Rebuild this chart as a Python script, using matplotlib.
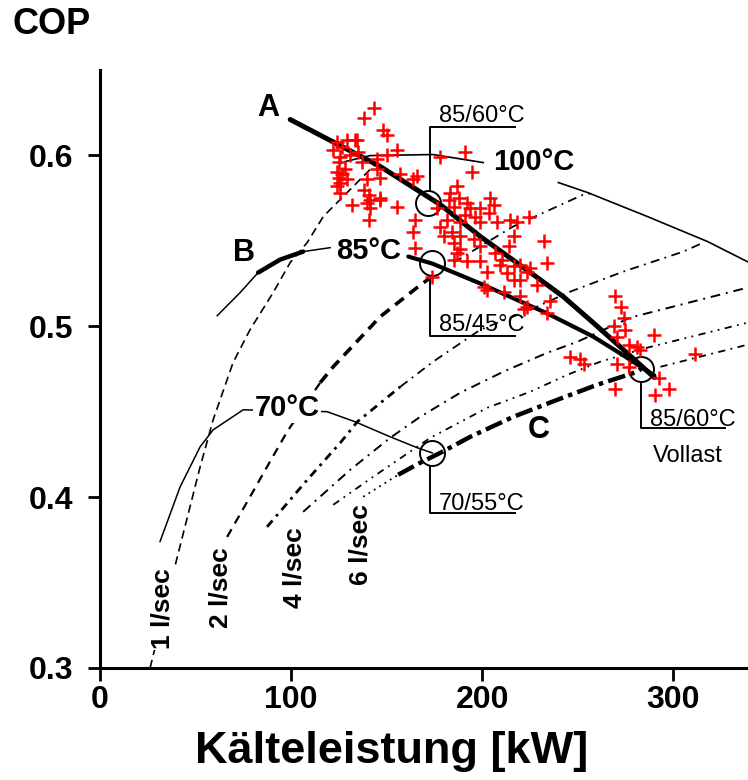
import numpy as np
import matplotlib
matplotlib.use("Agg")
import matplotlib.pyplot as plt

plt.rcParams['font.family'] = ['Liberation Sans', 'DejaVu Sans']

# Isothermen Heizwasser-Eintritt: Kaelteleistung [kW] / COP
t70_q = [31.4, 41.9, 52.4, 59.2, 74.9, 118.8, 133.5, 151.8, 166.0, 173.8]
t70_cop = [0.374, 0.406, 0.4295, 0.4394, 0.4511, 0.450, 0.4441, 0.4353, 0.4289, 0.4259]

t85_q = [61.3, 73.3, 82.7, 94.2, 106.3, 120.4, 161.3, 173.8, 199.0, 234.0, 258.1, 272.3, 290.0]
t85_cop = [0.5062, 0.5197, 0.5314, 0.539, 0.5437, 0.546, 0.5408, 0.5367, 0.525, 0.5075, 0.4939, 0.484, 0.4712]

t100_q = [128.3, 141.4, 174.3, 200.5, 239.8, 255.0, 286.4, 317.8, 338.7]
t100_cop = [0.5964, 0.5999, 0.6005, 0.5958, 0.5841, 0.5783, 0.5642, 0.5496, 0.5378]

# Linien konstanter Durchfluss
v1_q = [26.2, 40.3, 52.4, 59.2, 69.6, 78.5, 90.6, 99.5, 108.4, 116.8, 125.7, 136.1, 145.0]
v1_cop = [0.300, 0.3644, 0.4178, 0.4453, 0.4787, 0.498, 0.5197, 0.5373, 0.549, 0.5642, 0.5742, 0.5859, 0.5959]

v2_q = [66.5, 78.5, 87.4, 97.9, 115.2, 122.0, 146.6, 166.5, 175.0, 185.0, 216.0, 252.9, 256.5]
v2_cop = [0.3767, 0.4002, 0.4178, 0.4383, 0.467, 0.4763, 0.5056, 0.5232, 0.5302, 0.5373, 0.5583, 0.5771, 0.5777]

v3_q = [87.4, 108.4, 125.7, 134.6, 157.1, 174.3, 199.0, 225.1, 246.1, 273.8, 305.2, 315.7]
v3_cop = [0.3826, 0.4101, 0.4318, 0.4441, 0.4646, 0.4793, 0.498, 0.5097, 0.5203, 0.532, 0.5437, 0.549]

v4_q = [106.3, 130.9, 151.8, 167.5, 188.5, 211.0, 234.0, 249.7, 277.5, 338.7]
v4_cop = [0.3914, 0.416, 0.4347, 0.447, 0.4611, 0.4734, 0.4845, 0.4909, 0.5051, 0.5226]

v5_q = [122.0, 142.9, 166.0, 172.8, 202.6, 225.1, 244.5, 261.8, 286.4, 338.7]
v5_cop = [0.3955, 0.4119, 0.4295, 0.4347, 0.4523, 0.4617, 0.4716, 0.4793, 0.4875, 0.5021]

v6_q = [137.7, 156.0, 167.5, 178.0, 193.7, 216.2, 239.3, 260.2, 281.2, 283.2, 293.2, 338.7]
v6_cop = [0.4002, 0.4131, 0.4201, 0.4259, 0.4353, 0.447, 0.457, 0.4658, 0.4734, 0.4752, 0.4763, 0.4892]

# Regelkurve A
a_q = [99.5, 146.6, 178.0, 199.0, 225.1, 242.4, 258.1, 272.3, 290.0]
a_cop = [0.621, 0.5935, 0.5712, 0.5525, 0.5315, 0.5173, 0.502, 0.4878, 0.470]

# Betriebspunkte (85/60, 85/45, 70/55, Vollast 85/60)
op_q = [171.7, 173.8, 173.8, 283.2]
op_cop = [0.5724, 0.5373, 0.4259, 0.4752]
op_text = ["85/60°C", "85/45°C", "70/55°C", "85/60°C"]

# Messwerte
mess_q = [143.1, 137.9, 148.3, 150.1, 129.2, 133.5, 123.9, 126.5, 122.1, 135.2,
          155.3, 125.7, 124.8, 137.0, 128.3, 126.5, 124.8, 129.2, 123.9, 125.7,
          137.9, 140.5, 146.6, 131.7, 139.6, 141.4, 155.3, 140.5, 164.0, 165.8,
          157.1, 146.6, 150.1, 144.8, 178.0, 191.1, 194.6, 186.8, 183.2, 182.4,
          176.3, 185.0, 187.6, 192.0, 193.7, 199.0, 204.2, 205.9, 203.3, 191.1,
          196.3, 181.5, 188.5, 199.0, 207.7, 214.7, 218.2, 224.2, 232.1, 164.9,
          164.0, 164.9, 173.7, 178.0, 179.7, 184.1, 188.5, 185.0, 188.5, 195.4,
          199.0, 186.8, 185.0, 192.0, 199.0, 202.5, 210.3, 213.8, 216.4, 206.8,
          209.4, 216.4, 212.9, 219.9, 225.1, 216.4, 219.9, 211.2, 219.9, 233.9,
          235.6, 228.6, 223.4, 233.9, 200.7,
          269.6, 272.3, 274.0, 268.7, 274.9, 289.7, 270.5, 281.0, 282.7, 311.5,
          246.1, 251.3, 253.0, 270.5, 276.6, 292.3, 269.6, 290.6, 297.5, 276.6,
          221.6, 223.4, 202.5,
          134.4, 130.9, 123.9, 139.6, 144.8, 141.4, 146.6, 125.7]
mess_cop = [0.628, 0.622, 0.615, 0.612, 0.609, 0.609, 0.608, 0.605, 0.603, 0.602,
            0.603, 0.599, 0.596, 0.596, 0.592, 0.589, 0.587, 0.586, 0.582, 0.578,
            0.580, 0.577, 0.575, 0.571, 0.572, 0.569, 0.570, 0.562, 0.586, 0.588,
            0.589, 0.587, 0.600, 0.598, 0.599, 0.602, 0.590, 0.582, 0.578, 0.574,
            0.569, 0.570, 0.575, 0.572, 0.569, 0.569, 0.575, 0.571, 0.566, 0.565,
            0.564, 0.562, 0.561, 0.561, 0.561, 0.562, 0.561, 0.564, 0.550, 0.562,
            0.555, 0.546, 0.529, 0.558, 0.553, 0.555, 0.553, 0.549, 0.545, 0.551,
            0.547, 0.543, 0.539, 0.538, 0.538, 0.532, 0.539, 0.547, 0.553, 0.543,
            0.536, 0.535, 0.531, 0.536, 0.534, 0.527, 0.527, 0.520, 0.518, 0.537,
            0.515, 0.524, 0.511, 0.508, 0.523,
            0.518, 0.511, 0.505, 0.500, 0.498, 0.495, 0.494, 0.488, 0.486, 0.484,
            0.482, 0.481, 0.478, 0.478, 0.476, 0.470, 0.463, 0.460, 0.463, 0.489,
            0.510, 0.532, 0.521,
            0.609, 0.600, 0.590, 0.586, 0.592, 0.574, 0.574, 0.584]

xticks = [0, 100, 200, 300]
yticks = [0.3, 0.4, 0.5, 0.6]

fig = plt.figure(figsize=(7.48, 7.8), dpi=100)
ax = fig.add_axes([0.1337, 0.1436, 0.8663, 0.7667])
ax.set_xlim(0, 339)
ax.set_ylim(0.3, 0.65)

k = 'black'
# Isothermen
ax.plot(t70_q, t70_cop, color=k, lw=1.1, zorder=2)
ax.plot(t85_q[:6], t85_cop[:6], color=k, lw=1.1, zorder=2)
ax.plot(t85_q[2:5], t85_cop[2:5], color=k, lw=3.2, zorder=3, solid_capstyle='round')
ax.plot(t85_q[6:], t85_cop[6:], color=k, lw=3.0, zorder=3, solid_capstyle='round')
t100_q = np.array(t100_q)
t100_cop = np.array(t100_cop)
links = t100_q <= 200.5
ax.plot(t100_q[links], t100_cop[links], color=k, lw=1.2, zorder=2)
ax.plot(t100_q[~links], t100_cop[~links], color=k, lw=1.2, zorder=2)

# Durchflusslinien
ax.plot(v1_q, v1_cop, color=k, lw=1.2, ls=(0, (5, 3)), zorder=2)
ax.plot(v2_q[:5], v2_cop[:5], color=k, lw=1.6, ls=(0, (4, 3)), zorder=2)
ax.plot(v2_q[4:9], v2_cop[4:9], color=k, lw=2.6, ls=(0, (3, 2)), zorder=2)
ax.plot(v2_q[9:], v2_cop[9:], color=k, lw=1.3, ls=(0, (5, 3, 1, 3)), zorder=2)
ax.plot(v3_q[:5], v3_cop[:5], color=k, lw=2.0, ls=(0, (3, 2, 1, 2)), zorder=2)
ax.plot(v3_q[4:], v3_cop[4:], color=k, lw=1.3, ls=(0, (5, 3, 1, 3)), zorder=2)
ax.plot(v4_q, v4_cop, color=k, lw=1.4, ls=(0, (5, 3, 1, 3)), zorder=2)
ax.plot(v5_q, v5_cop, color=k, lw=1.3, ls=(0, (4, 3, 1, 3, 1, 3)), zorder=2)
ax.plot(v6_q[:2], v6_cop[:2], color=k, lw=1.3, ls=(0, (1, 2.5)), zorder=2)
ax.plot(v6_q[1:10], v6_cop[1:10], color=k, lw=3.2, ls=(0, (4, 1.2, 1, 1.2)), zorder=3)
ax.plot(v6_q[10:], v6_cop[10:], color=k, lw=1.3, ls=(0, (4, 3, 1, 3)), zorder=2)

# Kurve A
ax.plot(a_q, a_cop, color=k, lw=3.6, zorder=3, solid_capstyle='round')

# Betriebspunkte mit Beschriftung
ax.plot(op_q, op_cop, 'o', ms=18, mfc='none', mec=k, mew=1.4, zorder=4)
r = 0.0076
legs = [(0.6169, 0.6193), (0.4945, 0.4974), (0.3908, 0.3926), (0.4406, 0.4418)]
for i, (q, c) in enumerate(zip(op_q, op_cop)):
    ecke, grund = legs[i]
    q0 = 172.8 if i < 3 else q
    q1 = 217.3 if i < 3 else 327.2
    start = c + r if ecke > c else c - r
    ax.plot([q0, q0, q1], [start, ecke, ecke], color=k, lw=1.4, zorder=4)
    ax.text(q0 + 4.5, grund, op_text[i], fontsize=17, va='baseline', ha='left', zorder=4)
ax.text(289.5, 0.4207, "Vollast", fontsize=17, va='baseline', ha='left', zorder=4)

# Temperaturbeschriftung
weiss = dict(facecolor='white', edgecolor='none', pad=1.0)
ax.text(226.7, 0.5964, "100°C", fontsize=21, fontweight='bold', ha='center', va='center', zorder=4)
ax.text(140.3, 0.5443, "85°C", fontsize=21, fontweight='bold', ha='center', va='center',
        bbox=weiss, zorder=4)
ax.text(97.9, 0.4523, "70°C", fontsize=21, fontweight='bold', ha='center', va='center',
        bbox=weiss, zorder=4)

ax.text(88.0, 0.628, "A", fontsize=22, fontweight='bold', ha='center', va='center')
ax.text(75.4, 0.543, "B", fontsize=22, fontweight='bold', ha='center', va='center')
ax.text(229.3, 0.439, "C", fontsize=22, fontweight='bold', ha='center', va='center')

for q, c, txt in [(32.5, 0.335, "1 l/sec"), (62.8, 0.347, "2 l/sec"),
                  (101.6, 0.359, "4 l/sec"), (136.1, 0.372, "6 l/sec")]:
    ax.text(q, c, txt, fontsize=19, fontweight='bold', rotation=90,
            ha='center', va='center', bbox=weiss, zorder=4)

# Messpunkte
ax.plot(mess_q, mess_cop, '+', color='red', ms=9.5, mew=1.8, zorder=6)

# Achsen
for s in ['top', 'right']:
    ax.spines[s].set_visible(False)
for s in ['left', 'bottom']:
    ax.spines[s].set_linewidth(2.2)
ax.set_xticks(xticks)
ax.set_yticks(yticks)
ax.set_yticklabels(["%.1f" % y for y in yticks])
ax.tick_params(axis='both', direction='out', length=9, width=2.0, labelsize=23)
ax.tick_params(axis='y', pad=10)
ax.tick_params(axis='x', pad=3)
for lab in ax.get_xticklabels() + ax.get_yticklabels():
    lab.set_fontweight('bold')

fig.text(12 / 748, 1 - 24 / 780, "COP", fontsize=26, fontweight='bold', ha='left', va='center')
fig.text(392 / 748, 1 - 752 / 780, "Kälteleistung [kW]", fontsize=32.5, fontweight='bold',
         ha='center', va='center')

fig.savefig("out.png", dpi=100)
